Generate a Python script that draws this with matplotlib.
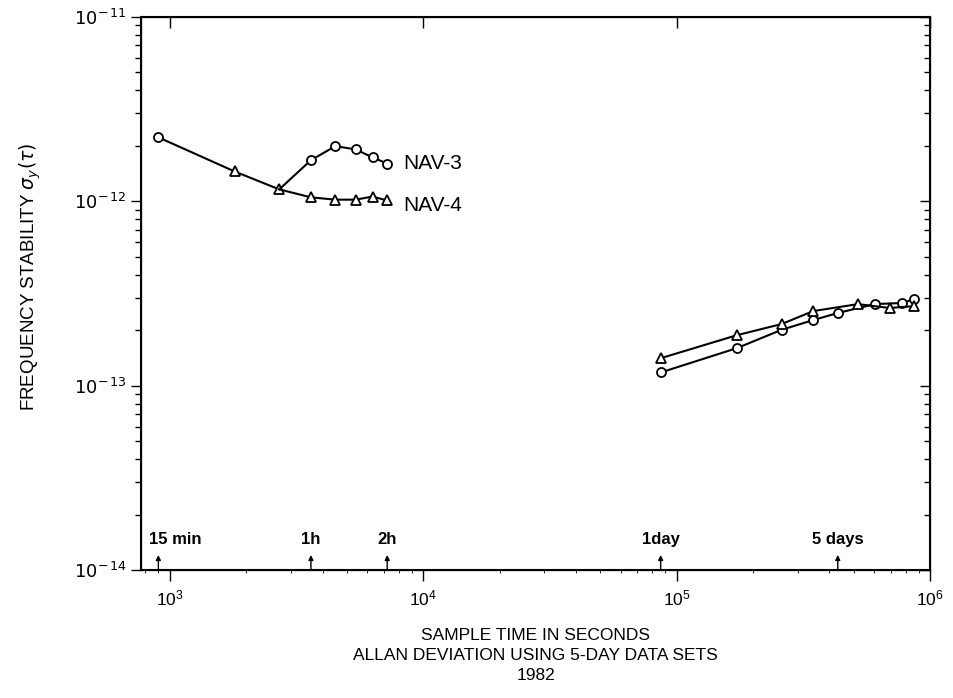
import numpy as np
import matplotlib.pyplot as plt
from matplotlib.ticker import FuncFormatter

plt.rcParams['font.family'] = ['Liberation Sans', 'DejaVu Sans']
plt.rcParams['mathtext.fontset'] = 'dejavusans'

# partie commune (15 min -> 45 min)
tau_commun = [900, 1800, 2700]
sigma_commun = [2.22e-12, 1.45e-12, 1.16e-12]
marq_commun = ['o', '^', '^']

# courtes durees
tau_nav3_h = [2700, 3600, 4500, 5400, 6300, 7200]
sigma_nav3_h = [1.16e-12, 1.67e-12, 1.99e-12, 1.91e-12, 1.73e-12, 1.60e-12]
tau_nav4_h = [2700, 3600, 4500, 5400, 6300, 7200]
sigma_nav4_h = [1.16e-12, 1.05e-12, 1.02e-12, 1.02e-12, 1.06e-12, 1.01e-12]

# longues durees (en jours)
jours_nav3 = [1, 2, 3, 4, 5, 7, 9, 10]
sigma_nav3_j = [1.18e-13, 1.60e-13, 2.01e-13, 2.27e-13, 2.48e-13, 2.77e-13, 2.81e-13, 2.95e-13]
jours_nav4 = [1, 2, 3, 4, 6, 8, 10]
sigma_nav4_j = [1.41e-13, 1.88e-13, 2.16e-13, 2.54e-13, 2.77e-13, 2.64e-13, 2.70e-13]

reperes = [900, 3600, 7200, 86400, 432000]
noms_reperes = ['15 min', '1h', '2h', '1day', '5 days']

jour = 86400
tau_nav3_j = [j * jour for j in jours_nav3]
tau_nav4_j = [j * jour for j in jours_nav4]

fig = plt.figure(figsize=(9.54, 6.98), dpi=100)
ax = fig.add_axes([0.148, 0.183, 0.827, 0.793])

style = dict(color='k', lw=1.5, ms=6.5, mfc='white', mec='k', mew=1.3)

ax.plot(tau_commun, sigma_commun, '-', color='k', lw=1.5)
for t, s, m in zip(tau_commun, sigma_commun, marq_commun):
    ax.plot(t, s, m, **style)
ax.plot(tau_nav3_h, sigma_nav3_h, '-o', markevery=slice(1, None), **style)
ax.plot(tau_nav4_h, sigma_nav4_h, '-^', markevery=slice(1, None), **style)
ax.plot(tau_nav3_j, sigma_nav3_j, '-o', **style)
ax.plot(tau_nav4_j, sigma_nav4_j, '-^', **style)

ax.text(8300, sigma_nav3_h[-1], 'NAV-3', fontsize=15, va='center', ha='left')
ax.text(8300, sigma_nav4_h[-1] * 0.94, 'NAV-4', fontsize=15, va='center', ha='left')

ax.set_xscale('log')
ax.set_yscale('log')
ax.set_xlim(770, 1e6)
ax.set_ylim(1e-14, 1e-11)
ax.set_xticks([1e3, 1e4, 1e5, 1e6])
ax.set_yticks([1e-14, 1e-13, 1e-12, 1e-11])

ax.yaxis.set_major_formatter(FuncFormatter(lambda v, p: r'$10^{-\,%d}$' % round(-np.log10(v))))

# reperes de temps en bas
for i, (t, nom) in enumerate(zip(reperes, noms_reperes)):
    ax.annotate('', xy=(t, 1.21e-14), xytext=(t, 1.0e-14),
                arrowprops=dict(arrowstyle='-|>', lw=1, color='k', mutation_scale=7,
                                shrinkA=0, shrinkB=0))
    if i == 0:
        ax.annotate(nom, xy=(t, 1.33e-14), xytext=(-7, 0), textcoords='offset points',
                    ha='left', va='bottom', fontsize=12, fontweight='bold')
    else:
        ax.text(t, 1.33e-14, nom, ha='center', va='bottom', fontsize=12, fontweight='bold')

ax.tick_params(axis='x', which='major', direction='out', length=8, width=1, labelsize=12.5, pad=5)
ax.tick_params(axis='x', which='minor', bottom=False)
ax.tick_params(axis='y', which='major', direction='out', length=7, width=1, labelsize=13)
ax.tick_params(axis='y', which='minor', direction='out', length=4, width=1)
for sp in ax.spines.values():
    sp.set_linewidth(1.5)

# ticks interieurs a droite et en haut
ax2 = ax.twinx()
ax2.set_yscale('log')
ax2.set_ylim(1e-14, 1e-11)
ax2.set_yticks([1e-14, 1e-13, 1e-12, 1e-11])
ax2.tick_params(axis='y', which='major', direction='in', length=7, width=1, labelright=False)
ax2.tick_params(axis='y', which='minor', direction='in', length=4, width=1)
ax3 = ax.twiny()
ax3.set_xscale('log')
ax3.set_xlim(770, 1e6)
ax3.set_xticks([1e3, 1e4, 1e5, 1e6])
ax3.tick_params(axis='x', which='major', direction='in', length=8, width=1, labeltop=False)
ax3.tick_params(axis='x', which='minor', top=False)

ax.set_xlabel('SAMPLE TIME IN SECONDS\nALLAN DEVIATION USING 5-DAY DATA SETS\n1982',
              fontsize=12.5, linespacing=1.45, labelpad=14)
ax.set_ylabel(r'FREQUENCY STABILITY $\sigma_y(\tau)$', fontsize=13.5)
ax.yaxis.set_label_coords(-0.125, 0.53)

fig.savefig('out.png', dpi=100)
